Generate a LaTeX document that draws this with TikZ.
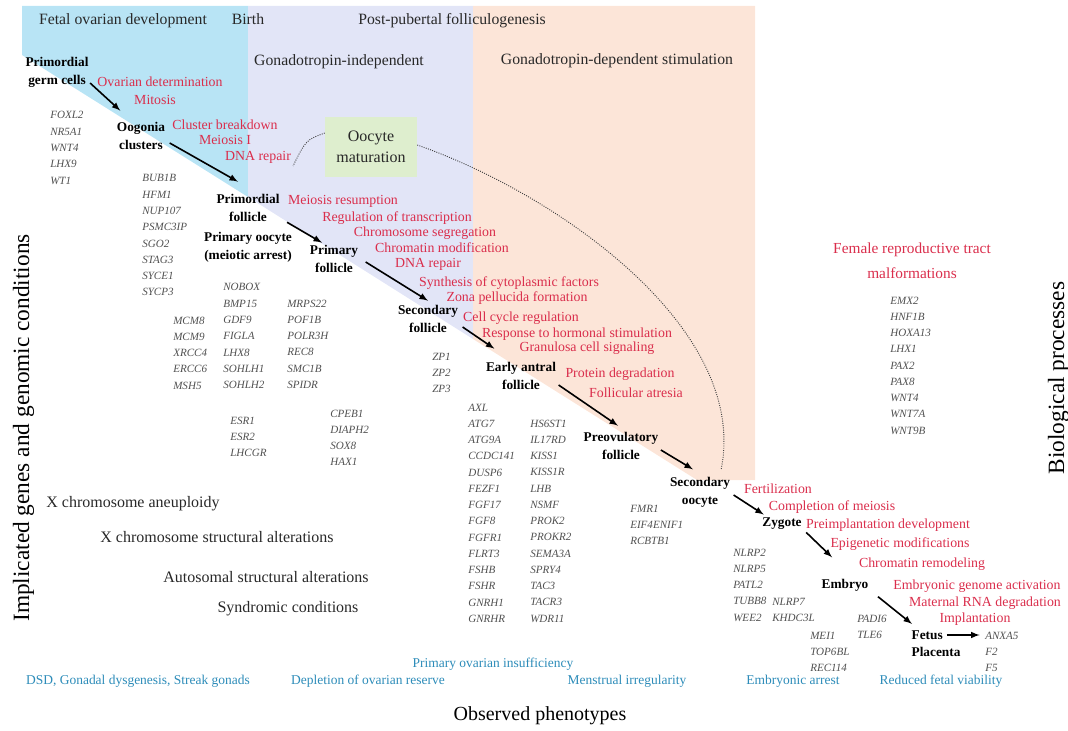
\documentclass[tikz,border=0pt]{standalone}
\usepackage{fontspec}
\setmainfont{Liberation Serif}
\usepackage{tikz}
\definecolor{fetalblue}{RGB}{184,228,245}
\definecolor{prepurple}{RGB}{226,229,247}
\definecolor{stimorange}{RGB}{252,229,216}
\definecolor{matgreen}{RGB}{222,238,206}
\definecolor{procred}{RGB}{218,46,76}
\definecolor{phenoblue}{RGB}{45,140,185}
\definecolor{genegray}{RGB}{80,80,80}
\definecolor{txtgray}{RGB}{40,40,40}
\newcommand\genes[1]{%
\begin{tabular}[t]{@{}l@{}}
#1
\end{tabular}%
}

\begin{document}
\begin{tikzpicture}[x=0.75pt,y=-0.75pt,
    stage/.style={font=\fontsize{10}{13.5}\selectfont\bfseries,align=center,inner sep=1pt},
    proc/.style={font=\fontsize{10.4}{13}\selectfont,text=procred,inner sep=0pt,text height=8pt,text depth=1pt},
    gene/.style={font=\fontsize{8.3}{12.2}\selectfont\itshape,text=genegray,inner sep=0pt,anchor=base west},
    hdr/.style={font=\fontsize{11.8}{14}\selectfont,text=txtgray,inner sep=0pt,text height=8.5pt,text depth=1pt},
    cond/.style={font=\fontsize{12}{14}\selectfont,text=txtgray,inner sep=0pt,text height=8.5pt,text depth=1pt},
    pheno/.style={font=\fontsize{10.1}{12}\selectfont,text=phenoblue,inner sep=0pt,text height=7.5pt,text depth=1pt},
    axislab/.style={font=\fontsize{17.5}{20}\selectfont,inner sep=0pt,text height=12pt,text depth=1.5pt},
    flow/.style={->,>=latex,very thick},
    matdots/.style={densely dotted,line width=0.7pt,black!75}]
    \useasboundingbox (0,0) rectangle (1068,731);

    % background: the three periods
    \fill[fetalblue] (22,6) -- (248,6) -- (248,197) -- (22,55) -- cycle;
    \fill[prepurple] (248,6) -- (473,6) -- (473,339) -- (248,197) -- cycle;
    \fill[stimorange]
        (473,6) -- (755,6) -- (755,480) -- (697,480) -- (473,339) -- cycle;

    % headers
    \node[hdr] (hdFetal) at (123,20) {Fetal ovarian development};
    \node[hdr] (hdBirth) at (248,20) {Birth};
    \node[hdr] (hdPost) at (452,20) {Post-pubertal folliculogenesis};
    \node[hdr] (hdIndep) at (339,61) {Gonadotropin-independent};
    \node[hdr] (hdDep) at (617,60) {Gonadotropin-dependent stimulation};

    % oocyte maturation + dotted arcs
    \node[fill=matgreen,minimum width=69pt,minimum height=45pt,align=center,
          font=\fontsize{12}{15.5}\selectfont,text=txtgray] 
      (oomat) at (371,147) {Oocyte\\maturation};
    \coordinate (dotend) at (293,166);
    \coordinate (arcend) at (721,470);
    \draw[matdots] ([shift={(0,-14)}]oomat.west) .. controls (306,140) .. (dotend);
    \draw[matdots] 
      ([shift={(0,-2)}]oomat.east) .. controls (560,195) and (750,330) .. (arcend);

    % stages
    \node[stage] (pgc) at (57,72) {Primordial\\germ cells};
    \node[stage] (oog) at (141,136) {Oogonia\\clusters};
    \node[stage] (prfol) at (248,208) {Primordial\\follicle};
    \node[stage] (proo) at (248,247) {Primary oocyte\\(meiotic arrest)};
    \node[stage] (pfol) at (334,259) {Primary\\follicle};
    \node[stage] (sfol) at (428,319) {Secondary\\follicle};
    \node[stage] (eafol) at (521,376) {Early antral\\follicle};
    \node[stage] (povfol) at (621,446) {Preovulatory\\follicle};
    \node[stage] (soo) at (700,492) {Secondary\\oocyte};
    \node[stage] (zyg) at (782,524) {Zygote};
    \node[stage] (emb) at (845,585) {Embryo};
    \node[stage,anchor=west] (fet) at (910,635) {Fetus};
    \node[stage,anchor=west] (plac) at (910,652) {Placenta};

    % biological processes
    \foreach \px/\py/\ptxt [count=\i] in {
        160/82/Ovarian determination, 155/100/Mitosis,
        225/125/Cluster breakdown, 225/140/Meiosis I, 258/156/DNA repair,
        343/200/Meiosis resumption, 397/217/Regulation of transcription,
        425/232/Chromosome segregation, 442/248/Chromatin modification,
        428/263/DNA repair, 509/282/Synthesis of cytoplasmic factors,
        517/297/Zona pellucida formation, 521/317/Cell cycle regulation,
        577/333/Response to hormonal stimulation,
        587/347/Granulosa cell signaling, 620/373/Protein degradation,
        636/393/Follicular atresia,
        778/489/Fertilization, 832/506/Completion of meiosis,
        888/524/Preimplantation development, 900/543/Epigenetic modifications,
        922/563/Chromatin remodeling, 977/585/Embryonic genome activation,
        985/602/Maternal RNA degradation, 975/618/Implantation}
    {
      \node[proc] (pr\i) at (\px,\py) {\ptxt};
    }
    \node[proc,align=center,font=\fontsize{11.5}{18.7}\selectfont,
          text height=,text depth=] 
      (frt) at (912,261) {Female reproductive tract\\malformations};

    % genes
    \node[gene] (gFox) at (50,119) {\genes{FOXL2\\NR5A1\\WNT4\\LHX9\\WT1}};
    \node[gene] (gBub) at (142,182) 
      {\genes{BUB1B\\HFM1\\NUP107\\PSMC3IP\\SGO2\\STAG3\\SYCE1\\SYCP3}};
    \node[gene] (gMcm) at (173,324) {\genes{MCM8\\MCM9\\XRCC4\\ERCC6\\MSH5}};
    \node[gene] (gNob) at (223,291) 
      {\genes{NOBOX\\BMP15\\GDF9\\FIGLA\\LHX8\\SOHLH1\\SOHLH2}};
    \node[gene] (gMrp) at (287,307) 
      {\genes{MRPS22\\POF1B\\POLR3H\\REC8\\SMC1B\\SPIDR}};
    \node[gene] (gEsr) at (230,424) {\genes{ESR1\\ESR2\\LHCGR}};
    \node[gene] (gCpe) at (330,417) {\genes{CPEB1\\DIAPH2\\SOX8\\HAX1}};
    \node[gene] (gZp) at (432,360) {\genes{ZP1\\ZP2\\ZP3}};
    \node[gene] (gAxl) at (468,411) 
      {\genes{AXL\\ATG7\\ATG9A\\CCDC141\\DUSP6\\FEZF1\\FGF17\\FGF8\\FGFR1\\FLRT3\\FSHB\\FSHR\\GNRH1\\GNRHR}};
    \node[gene] (gHs) at (530,427) 
      {\genes{HS6ST1\\IL17RD\\KISS1\\KISS1R\\LHB\\NSMF\\PROK2\\PROKR2\\SEMA3A\\SPRY4\\TAC3\\TACR3\\WDR11}};
    \node[gene] (gFmr) at (630,512) {\genes{FMR1\\EIF4ENIF1\\RCBTB1}};
    \node[gene] (gEmx) at (890,304) 
      {\genes{EMX2\\HNF1B\\HOXA13\\LHX1\\PAX2\\PAX8\\WNT4\\WNT7A\\WNT9B}};
    \node[gene] (gNlrp) at (733,556) {\genes{NLRP2\\NLRP5\\PATL2\\TUBB8\\WEE2}};
    \node[gene] (gNlrpS) at (772,605) {\genes{NLRP7\\KHDC3L}};
    \node[gene] (gPad) at (857,622) {\genes{PADI6\\TLE6}};
    \node[gene] (gMei) at (810,639) {\genes{MEI1\\TOP6BL\\REC114}};
    \node[gene] (gAnx) at (985,639) {\genes{ANXA5\\F2\\F5}};

    % arrows along the chain
    \draw[flow] ([shift={(0,11)}]pgc.east) -- ([shift={(5,-10)}]oog.north west);
    \draw[flow] ([shift={(3,7)}]oog.east) -- ([shift={(-10,-11)}]prfol.north);
    \draw[flow] ([shift={(6,-1)}]prfol.south east) -- ([shift={(-12,-1)}]pfol.north);
    \draw[flow] ([shift={(6,3)}]pfol.east) -- ([shift={(0,-3)}]sfol.north);
    \draw[flow] ([shift={(3,8)}]sfol.east) -- ([shift={(10,-12)}]eafol.north west);
    \draw[flow] ([shift={(1,9)}]eafol.east) -- ([shift={(-3,-5)}]povfol.north);
    \draw[flow] ([shift={(1,4)}]povfol.east) -- ([shift={(-7,-6)}]soo.north);
    \draw[flow] ([shift={(2,3)}]soo.east) -- ([shift={(3,-2)}]zyg.north west);
    \draw[flow] ([shift={(3,1)}]zyg.south east) -- ([shift={(12,-20)}]emb.north west);
    \draw[flow] ([shift={(8,4)}]emb.south east) -- ([shift={(2,-5)}]fet.north west);
    \draw[flow,shorten <=2pt,shorten >=4pt] (fet.east) -- (fet.east -| gAnx.west);

    % genomic conditions
    \node[cond] (cAneu) at (133,502) {X chromosome aneuploidy};
    \node[cond] (cXstr) at (217,537) {X chromosome structural alterations};
    \node[cond] (cAuto) at (266,577) {Autosomal structural alterations};
    \node[cond] (cSynd) at (288,607) {Syndromic conditions};

    % observed phenotypes
    \node[pheno] (phDsd) at (138,680) {DSD, Gonadal dysgenesis, Streak gonads};
    \node[pheno] (phDepl) at (368,680) {Depletion of ovarian reserve};
    \node[pheno] (phPoi) at (493,663) {Primary ovarian insufficiency};
    \node[pheno] (phMens) at (627,680) {Menstrual irregularity};
    \node[pheno] (phArr) at (793,680) {Embryonic arrest};
    \node[pheno] (phFet) at (941,680) {Reduced fetal viability};

    % axis titles
    \node[axislab,rotate=90] (ylab) at (22,428) 
      {Implicated genes and genomic conditions};
    \node[axislab,rotate=90] (bplab) at (1057,378) {Biological processes};
    \node[axislab,font=\fontsize{15}{18}\selectfont] (xlab) at (540,713) 
      {Observed phenotypes};
\end{tikzpicture}
\end{document}
